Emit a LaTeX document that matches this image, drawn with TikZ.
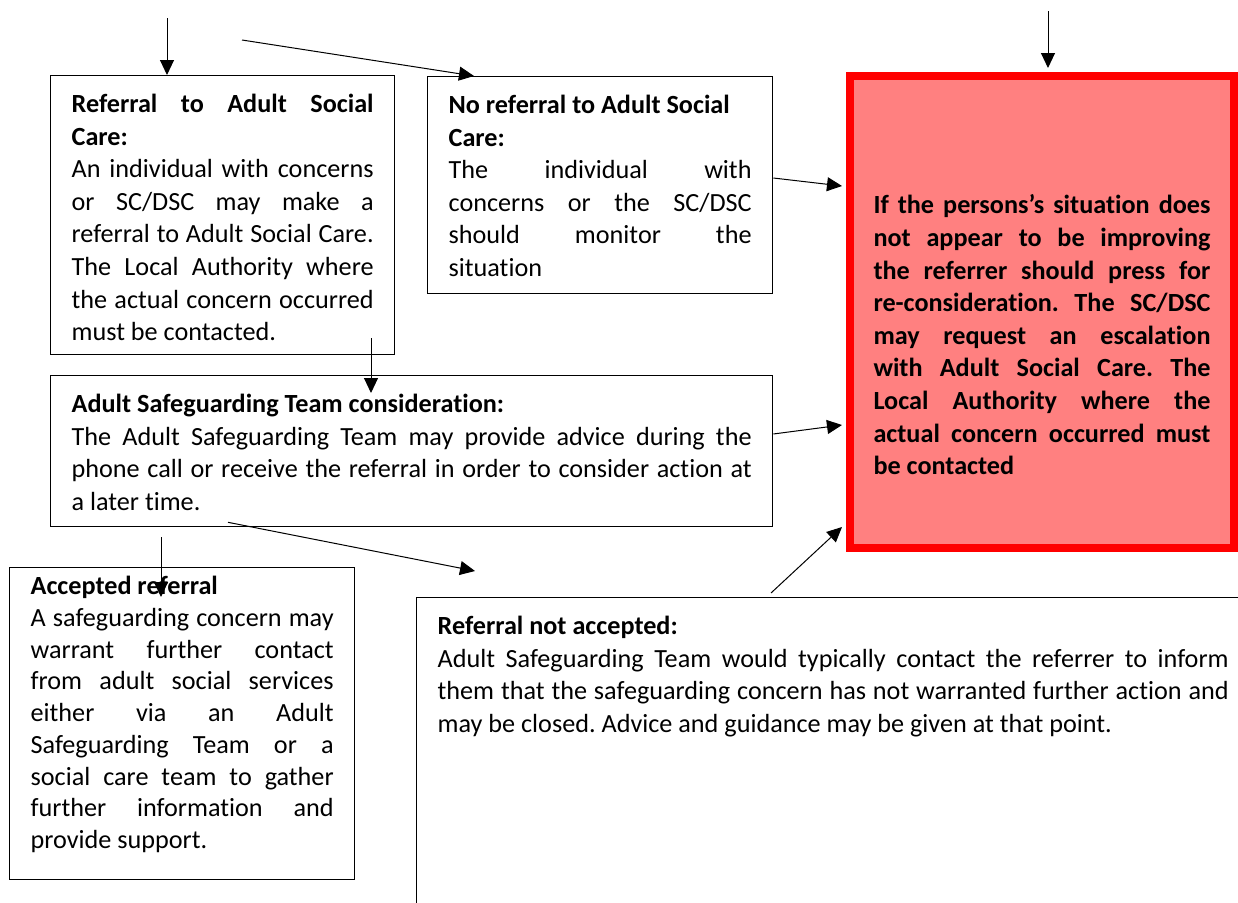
\documentclass[tikz,border=0pt]{standalone}
\usepackage{fontspec}
\setmainfont{Carlito}[Ligatures=NoCommon]
\usepackage{xcolor}
\definecolor{alertred}{RGB}{255,0,0}
\definecolor{alertpink}{RGB}{255,128,128}
\usepackage{tikz}
\usetikzlibrary{calc}
\usetikzlibrary{arrows.meta}
\tolerance=10000
\hyphenpenalty=10000
\exhyphenpenalty=10000
\frenchspacing
\newcommand{\boxtext}[4][0bp]{\parbox[c][#3][t]{#2}{\vspace*{#1}\strut #4}}
\tikzset{
    panel/.style={anchor=north west, draw, line width=1.3bp, inner xsep=21bp, inner ysep=14bp},
    alert/.style={panel, draw=alertred, fill=alertpink, line width=8bp, inner xsep=23.5bp, inner ysep=0bp},
    flow/.style={line width=1bp, -{Triangle[length=15bp,width=14bp]}}
}
\begin{document}
\begin{tikzpicture}[x=1bp, y=-1bp, font=\fontsize{26.2bp}{32.6bp}\selectfont]
    \useasboundingbox (0,0) rectangle (1238,903);
    \clip (0,0) rectangle (1238,903);

    \node[panel] (refer) at (50,75) {\boxtext{302bp}{251bp}{\textbf{Referral to Adult Social\linebreak Care:}\par
        An individual with concerns\linebreak or SC/DSC may make a\linebreak referral to Adult Social Care.\linebreak
        The Local Authority where\linebreak the actual concern occurred\linebreak must be contacted.}};
    \node[panel] (noref) at (427,76) {\boxtext{303bp}{189bp}{\textbf{No referral to Adult Social\newline Care:}\par
        The individual with\linebreak concerns or the SC/DSC\linebreak should monitor the\linebreak situation}};
    \node[panel] (sgt) at (50,375) {\boxtext{680bp}{123bp}{\textbf{Adult Safeguarding Team consideration:}\par
        The Adult Safeguarding Team may provide advice during the\linebreak
        phone call or receive the referral in order to consider action at\linebreak a later time.}};
    \node[panel, inner ysep=5bp, font=\fontsize{26.2bp}{31.7bp}\selectfont] (acc) at (9,567) {\boxtext{303bp}{302bp}{\textbf{Accepted referral}\par
        A safeguarding concern may\linebreak warrant further contact\linebreak from adult social services\linebreak
        either via an Adult\linebreak Safeguarding Team or a\linebreak social care team to gather\linebreak
        further information and\linebreak provide support.}};
    \node[panel] (rej) at (416,597) {\boxtext{791bp}{305bp}{\textbf{Referral not accepted:}\par
        Adult Safeguarding Team would typically contact the referrer to inform\linebreak
        them that the safeguarding concern has not warranted further action and\linebreak
        may be closed. Advice and guidance may be given at that point.}};
    \node[alert] (esc) at (846,72) {\boxtext[115bp]{337bp}{472bp}{\bfseries
        If the persons’s situation does\linebreak not appear to be improving\linebreak
        the referrer should press for\linebreak re-consideration. The SC/DSC\linebreak
        may request an escalation\linebreak with Adult Social Care. The\linebreak
        Local Authority where the\linebreak actual concern occurred must\linebreak be contacted}};

    \coordinate (inA) at (167,18);
    \coordinate (inB) at (242,40);
    \coordinate (inC) at (1048,11);

    \draw[flow] (inA) -- (inA |- refer.north);
    \draw[flow] (inB) -- ($(noref.north west)+(47,0)$);
    \draw[flow] (inC) -- ($(inC |- esc.north)+(0,-4)$);
    \draw[flow] ($(noref.north east)+(0,102)$) -- ($(esc.north west)+(-4,114)$);
    \draw[flow] ($(refer.south west)+(321,-17)$) -- ($(sgt.north west)+(321,18)$);
    \draw[flow] ($(sgt.north east)+(0,59)$) -- ($(esc.north west)+(-4,353)$);
    \draw[flow] ($(sgt.south west)+(111,10)$) -- ($(acc.north west)+(152,30)$);
    \draw[flow] ($(sgt.south west)+(178,-5)$) -- ($(rej.north west)+(59,-26)$);
    \draw[flow] ($(rej.north west)+(355,-4)$) -- ($(esc.south west)+(-4,-25)$);
\end{tikzpicture}
\end{document}
